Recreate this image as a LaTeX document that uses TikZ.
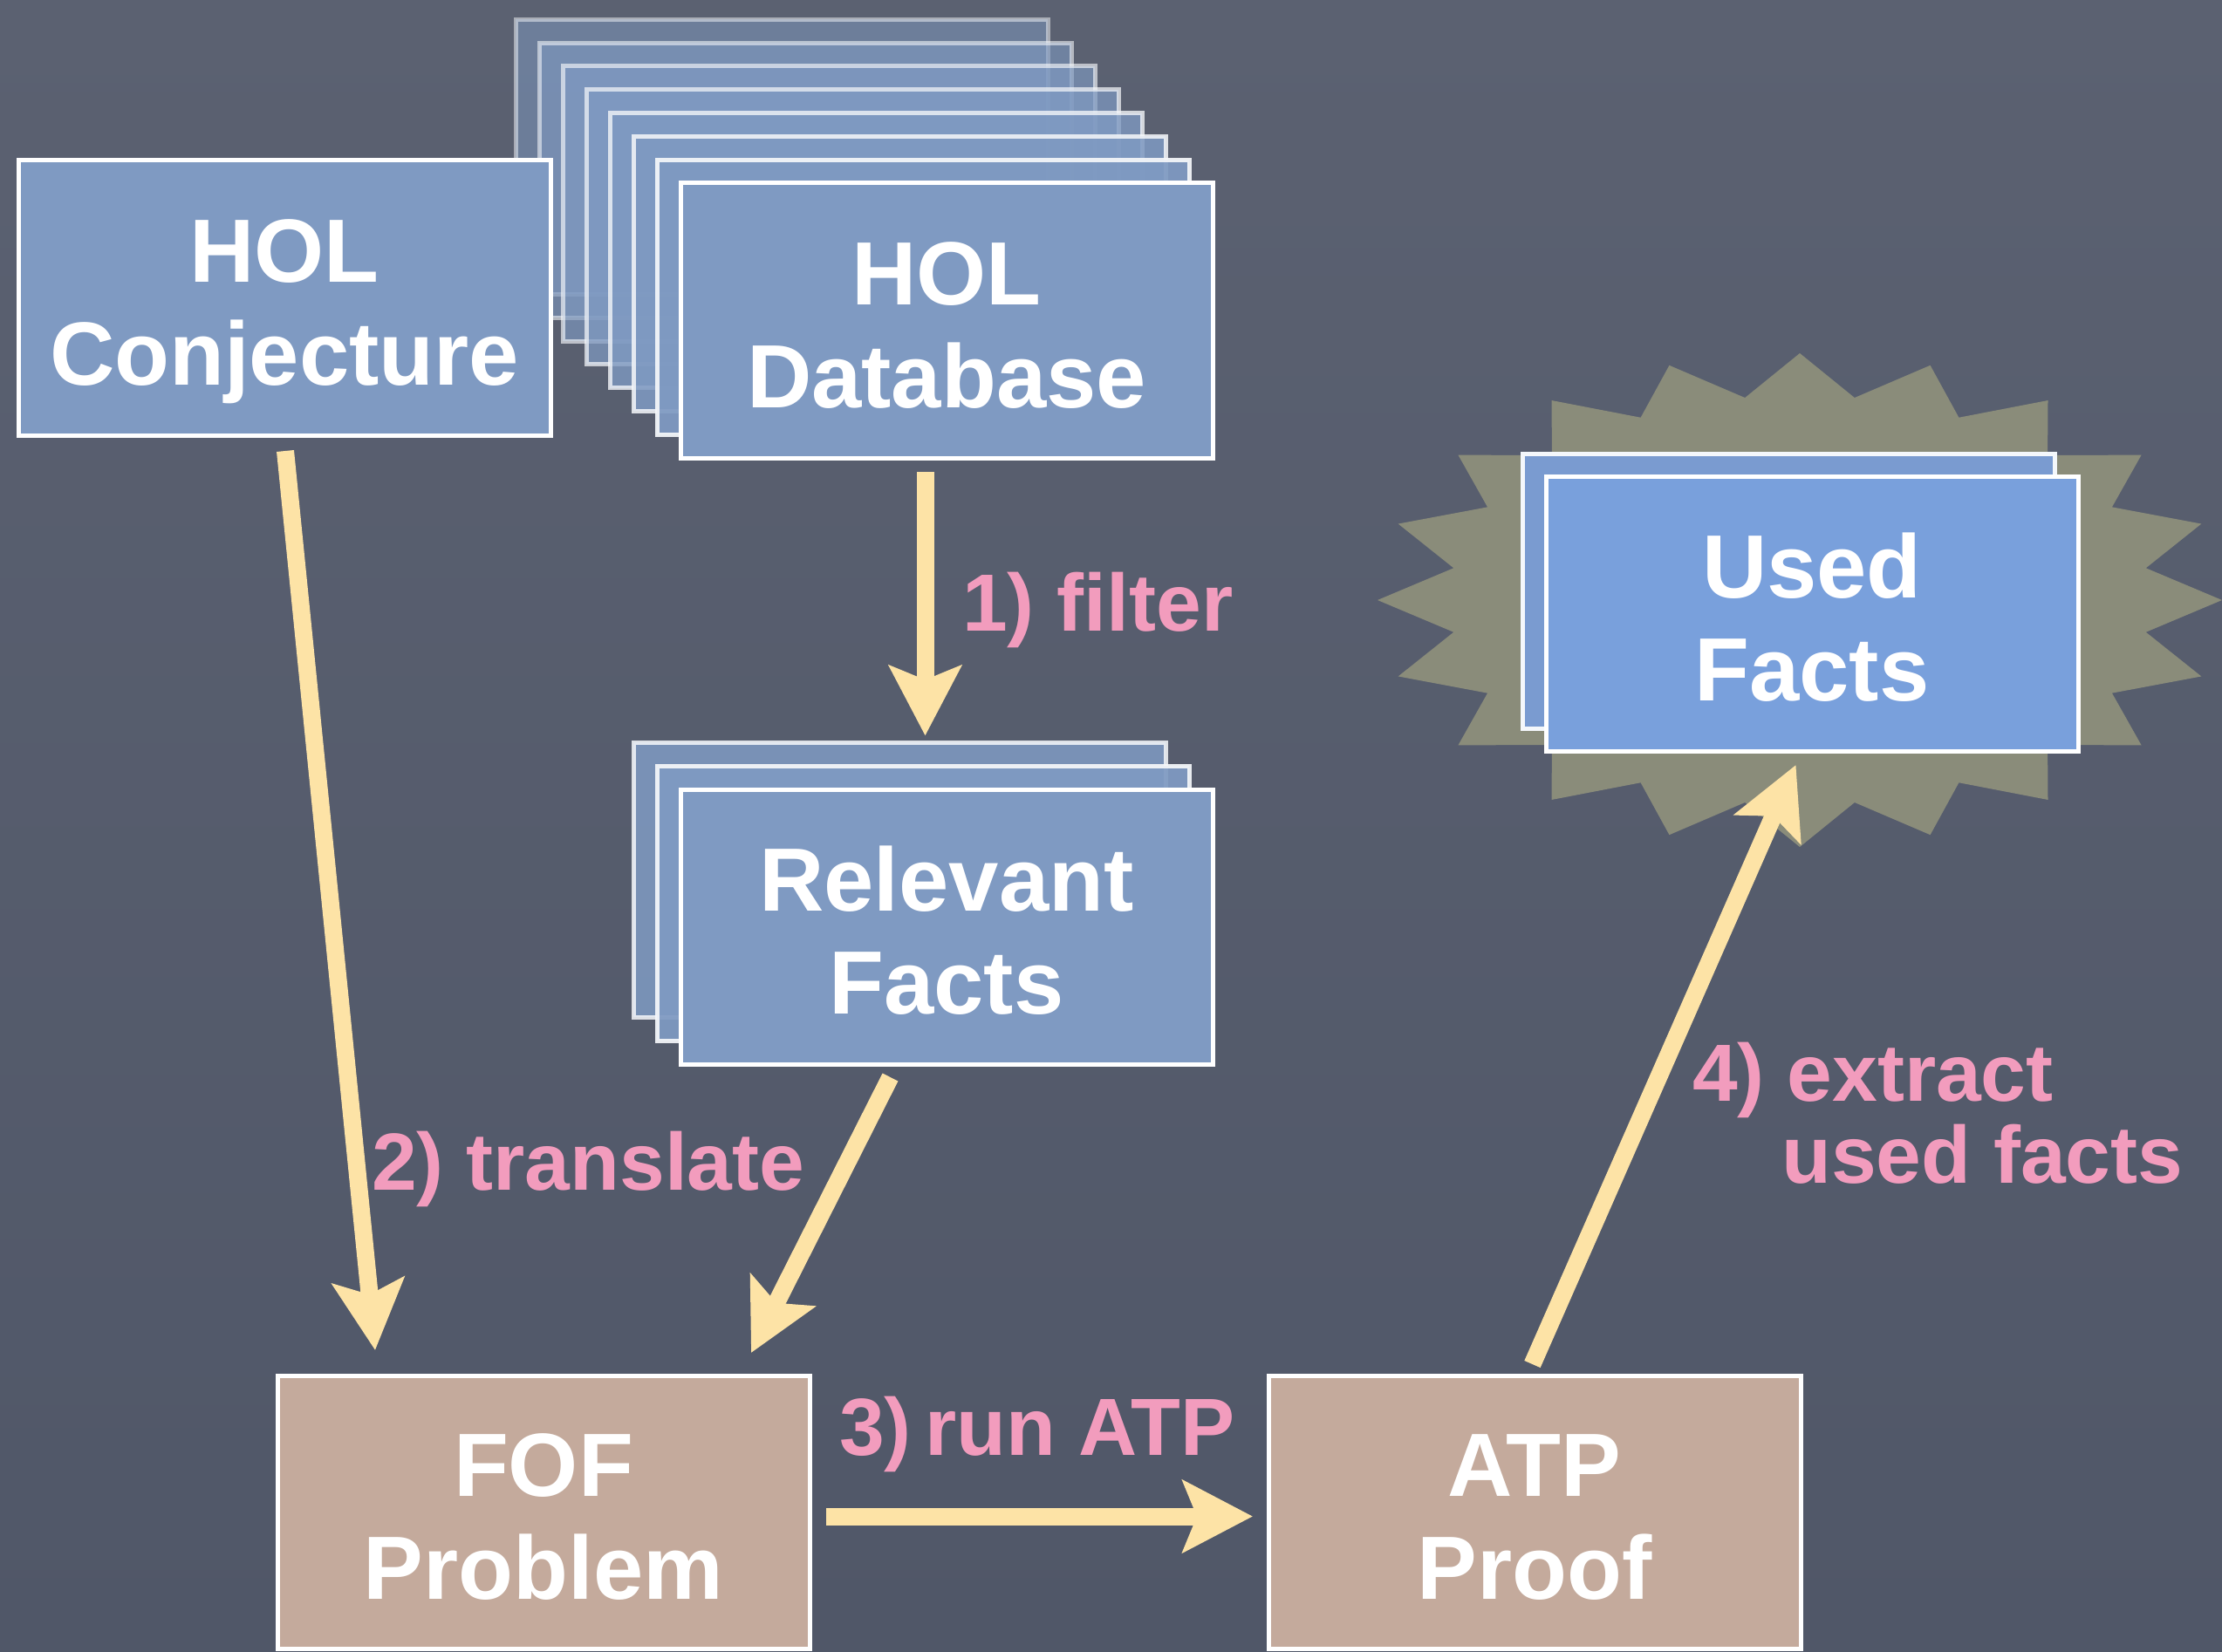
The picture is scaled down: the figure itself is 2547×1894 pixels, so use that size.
\documentclass[tikz,border=0pt]{standalone}
\usepackage{fontspec}
\setmainfont{Liberation Sans}
\usetikzlibrary{arrows.meta,calc}

\definecolor{boardlight}{HTML}{5B6171}
\definecolor{boarddark}{HTML}{505768}
\definecolor{cardblue}{HTML}{7F9AC2}
\definecolor{usedblue}{HTML}{79A0DC}
\definecolor{usedback}{HTML}{7A9BD0}
\definecolor{cardbrown}{HTML}{C4AA9C}
\definecolor{burst}{HTML}{8A8C7A}
\definecolor{chalkpink}{HTML}{F29CBD}
\definecolor{chalkyellow}{HTML}{FDE3A6}

% two centred lines on a card, with fixed line box height and depth
\newcommand{\cardtext}[2]{\rule{0pt}{103pt}#1\\#2\rule[-22pt]{0pt}{22pt}}

\begin{document}
\begin{tikzpicture}[x=1pt,y=-1pt,
  card/.style={draw=white, line width=5pt, minimum width=610pt,
    minimum height=315pt, inner sep=0pt, anchor=north west,
    text=white, align=center,
    font=\fontsize{103}{118}\selectfont\bfseries},
  bluecard/.style={card, fill=cardblue},
  ghost/.style={card, fill=cardblue, draw=white!92!cardblue,
    fill opacity=#1, draw opacity=#1},
  browncard/.style={card, fill=cardbrown, minimum height=313pt},
  flowlabel/.style={text=chalkpink, anchor=base west, inner sep=0pt,
    font=\fontsize{93}{108}\selectfont\bfseries},
  flow/.style={draw=chalkyellow, line width=20pt,
    -{Stealth[length=80pt,width=82pt,inset=16pt]}},
]
% chalkboard
\shade[top color=boardlight, bottom color=boarddark]
  (0,0) rectangle (2547,1894);
\useasboundingbox (0,0) rectangle (2547,1894);

% starburst behind the used facts
\fill[burst] (2063,405)
  \foreach \k in {1,...,39} {
    -- ({2063+484*(0.915+0.085*cos(180*\k))*cos(90+9*\k)},
        {688-283*(0.915+0.085*cos(180*\k))*sin(90+9*\k)})
  } -- cycle;

% database: a fading stack of cards
\foreach \k/\o in {7/0.51,6/0.58,5/0.65,4/0.72,3/0.79,2/0.86,1/0.93} {
  \node[ghost=\o] (dbghost\k) at ({777.5-27*\k},{207.5-26.8*\k}) {};
}
\node[bluecard] (db) at (777.5,207.5) {\cardtext{HOL}{Database}};

% conjecture card
\node[bluecard] (conj) at (18.5,181.5) {\cardtext{HOL}{Conjecture}};

% relevant facts stack
\node[ghost=0.86] (relB) at (723.5,848.5) {};
\node[ghost=0.93] (relA) at (750.5,875.5) {};
\node[bluecard] (rel) at (777.5,902.5) {\cardtext{Relevant}{Facts}};

% used facts
\node[card, fill=usedback, draw=white!92!usedback] (usedB) at (1742.5,517.5) {};
\node[card, fill=usedblue] (used) at (1769.5,543.5) {\cardtext{Used}{Facts}};

% first-order problem and proof
\node[browncard] (fof) at (315.5,1574.5) {\cardtext{FOF}{Problem}};
\node[browncard] (atp) at (1451.5,1574.5) {\cardtext{ATP}{Proof}};

% connectors
\draw[flow] ($(db.south)+(-24.5,13.5)$) -- ($(relB.north)+(29.5,-5)$);
\draw[flow] ($(conj.south)+(1,15.5)$) -- ($(fof.north west)+(114.5,-26.5)$);
\draw[flow] ($(rel.south)+(-64.5,12.5)$) -- ($(fof.north east)+(-69.5,-23.5)$);
\draw[flow] ($(fof.east)+(16.5,5)$) -- ($(atp.west)+(-15.5,5)$);
\draw[flow] ($(atp.north)+(-2.5,-10.5)$) -- ($(used.south)+(-18.5,13.5)$);

% step labels
\node[flowlabel] (lfilter) at (1103,723) {1) filter};
\node[flowlabel] (ltranslate) at (426,1364) {2) translate};
\node[flowlabel] (lrun) at (962,1668) {3)\,run ATP};
\node[flowlabel] (lextract) at (1940,1262) {4) extract};
\node[flowlabel] (lused) at (2042,1356) {used facts};
\end{tikzpicture}
\end{document}
